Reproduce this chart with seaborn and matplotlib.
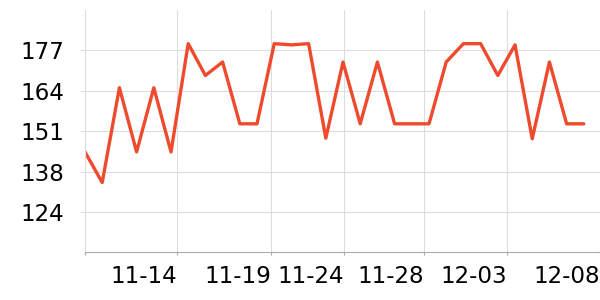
import matplotlib
matplotlib.use("Agg")
import matplotlib.pyplot as plt
import seaborn as sns
import pandas as pd

values = [144, 134, 165, 144, 165, 144, 179.4, 169, 173.4, 153.2,
          153.2, 179.4, 179, 179.4, 148.5, 173.4, 153.2, 173.4, 153.2, 153.2,
          153.2, 173.4, 179.4, 179.4, 169, 179, 148.3, 173.4, 153.2, 153.2]
x_idx = list(range(len(values)))

x_tick_pos = [0, 5.37, 10.83, 15.08, 19.69, 24.55, 29.94]
x_tick_labels = ["", "11-14", "11-19", "11-24", "11-28", "12-03", "12-08"]
y_ticks = [124.4, 137.6, 150.8, 164.0, 177.2]
y_tick_labels = ["124", "138", "151", "164", "177"]
y_limits = (111.2, 190.4)

df = pd.DataFrame({"x": x_idx, "y": values})

sns.set_theme(style="white")
plt.rcParams["font.family"] = ["DejaVu Sans"]

fig = plt.figure(figsize=(6, 3), dpi=100)
ax = fig.add_axes([85 / 600, (300 - 252.3) / 300, 515 / 600, (252.3 - 10) / 300])

sns.lineplot(data=df, x="x", y="y", ax=ax, color="#EE4A2E", linewidth=2.4)

ax.set_xlim(0, 29.94)
ax.set_ylim(*y_limits)
ax.set_xticks(x_tick_pos)
ax.set_xticklabels(x_tick_labels, ha="right")
ax.set_yticks(y_ticks)
ax.set_yticklabels(y_tick_labels)
ax.set_xlabel("")
ax.set_ylabel("")

ax.grid(True, color="#dddddd", linewidth=0.8)
ax.set_axisbelow(True)
for s in ["top", "right"]:
    ax.spines[s].set_visible(False)
ax.spines["left"].set_color("#dddddd")
ax.spines["left"].set_linewidth(0.8)
ax.spines["bottom"].set_color("#aaaaaa")
ax.spines["bottom"].set_linewidth(0.8)

ax.tick_params(axis="y", length=3.6, width=0.8, color="#dddddd", pad=11.5,
               labelsize=16.6, labelcolor="black", left=True)
ax.tick_params(axis="x", length=2, width=0.8, color="#aaaaaa", pad=7,
               labelsize=16.6, labelcolor="black", bottom=True)

fig.savefig("out.png", dpi=100)
